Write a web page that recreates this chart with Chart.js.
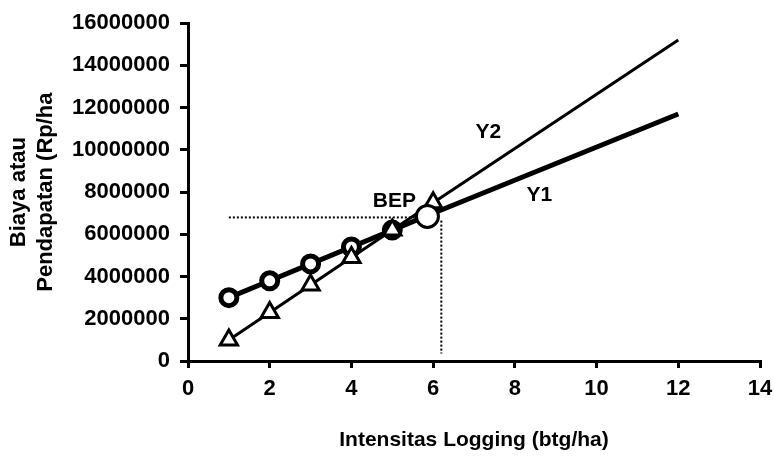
<!DOCTYPE html>
<html>
<head>
<meta charset="utf-8">
<script src="https://cdn.jsdelivr.net/npm/chart.js@4/dist/chart.umd.min.js"></script>
<style>
  html, body { margin: 0; padding: 0; background: #fff; }
  #wrap { width: 774px; height: 457px; }
</style>
</head>
<body>
<div id="wrap"><canvas id="bep"></canvas></div>
<script>
// values
var xs = [1, 2, 3, 4, 5, 6, 12];
var y1 = [3000000, 3800000, 4600000, 5400000, 6200000, 7000000, 11700000];
var y2 = [1000000, 2300000, 3600000, 4900000, 6200000, 7500000, 15200000];
var y1Markers = [1, 1, 1, 1, 1, 0, 0];
var y2Markers = [1, 1, 1, 1, 1, 1, 0];
var bepX = 5.86, bepY = 6850000;
var guideH = [[1, 6800000], [5.7, 6800000]];
var guideV = [[6.2, 6650000], [6.2, 350000]];
var notes = [
    { text: 'BEP', x: 5.05, y: 7550000 },
    { text: 'Y2', x: 7.35, y: 10850000 },
    { text: 'Y1', x: 8.6, y: 7850000 }
];

function pts(a, b) {
    var out = [];
    for (var i = 0; i < a.length; i++) out.push({ x: a[i], y: b[i] });
    return out;
}

var textPlugin = {
    id: 'notes',
    afterDatasetsDraw: function (chart) {
        var ctx = chart.ctx;
        var sx = chart.scales.x, sy = chart.scales.y;
        ctx.save();
        ctx.fillStyle = '#000';
        ctx.font = 'bold 21px "Liberation Sans", Arial, sans-serif';
        ctx.textAlign = 'center';
        ctx.textBaseline = 'middle';
        notes.forEach(function (n) {
            ctx.fillText(n.text, sx.getPixelForValue(n.x), sy.getPixelForValue(n.y));
        });
        ctx.restore();
    }
};

var tickFont = { family: '"Liberation Sans", Arial, sans-serif', size: 22, weight: 'bold' };

new Chart(document.getElementById('bep').getContext('2d'), {
    type: 'line',
    data: {
        datasets: [
            {
                label: 'BEP',
                order: 0,
                data: [{ x: bepX, y: bepY }],
                pointStyle: 'circle',
                pointRadius: 11,
                pointBorderWidth: 3,
                pointBorderColor: '#000',
                pointBackgroundColor: '#fff',
                showLine: false
            },
            {
                label: 'Y2',
                order: 1,
                data: pts(xs, y2),
                borderColor: '#000',
                borderWidth: 3,
                pointStyle: 'triangle',
                pointRadius: y2Markers.map(function (m) { return m ? 10 : 0; }),
                pointBorderWidth: 3,
                pointBorderColor: '#000',
                pointBackgroundColor: '#fff'
            },
            {
                label: 'Y1',
                order: 2,
                data: pts(xs, y1),
                borderColor: '#000',
                borderWidth: 5,
                pointStyle: 'circle',
                pointRadius: y1Markers.map(function (m) { return m ? 8 : 0; }),
                pointBorderWidth: 5,
                pointBorderColor: '#000',
                pointBackgroundColor: '#fff'
            },
            {
                label: 'guideH',
                order: 3,
                data: guideH.map(function (p) { return { x: p[0], y: p[1] }; }),
                borderColor: '#000',
                borderWidth: 2,
                borderDash: [2, 2],
                pointRadius: 0
            },
            {
                label: 'guideV',
                order: 4,
                data: guideV.map(function (p) { return { x: p[0], y: p[1] }; }),
                borderColor: '#000',
                borderWidth: 2,
                borderDash: [2, 2],
                pointRadius: 0
            }
        ]
    },
    options: {
        responsive: true,
        maintainAspectRatio: false,
        animation: false,
        layout: {
            padding: { top: 19, right: 0, left: 0, bottom: 0 }
        },
        scales: {
            x: {
                type: 'linear',
                min: 0,
                max: 14,
                ticks: {
                    stepSize: 2,
                    color: '#000',
                    font: tickFont,
                    padding: 8,
                    callback: function (v) { return String(v); }
                },
                grid: {
                    drawOnChartArea: false,
                    color: '#000',
                    lineWidth: 3,
                    tickLength: 7
                },
                border: { color: '#000', width: 3 },
                title: {
                    display: true,
                    text: 'Intensitas Logging (btg/ha)',
                    color: '#000',
                    font: { family: '"Liberation Sans", Arial, sans-serif', size: 21, weight: 'bold' },
                    padding: { top: 0, bottom: 4 }
                },
                afterFit: function (s) { s.height = 96; s.paddingRight = 13; }
            },
            y: {
                min: 0,
                max: 16000000,
                ticks: {
                    stepSize: 2000000,
                    color: '#000',
                    font: tickFont,
                    padding: 10,
                    callback: function (v) { return String(v); }
                },
                grid: {
                    drawOnChartArea: false,
                    color: '#000',
                    lineWidth: 3,
                    tickLength: 8
                },
                border: { color: '#000', width: 3 },
                title: {
                    display: true,
                    text: ['Biaya atau', 'Pendapatan (Rp/ha'],
                    color: '#000',
                    font: { family: '"Liberation Sans", Arial, sans-serif', size: 22, weight: 'bold' },
                    padding: { top: 6, bottom: 0 }
                },
                afterFit: function (s) { s.width = 188; }
            }
        },
        plugins: {
            legend: { display: false },
            tooltip: { enabled: false }
        }
    },
    plugins: [textPlugin]
});
</script>
</body>
</html>
